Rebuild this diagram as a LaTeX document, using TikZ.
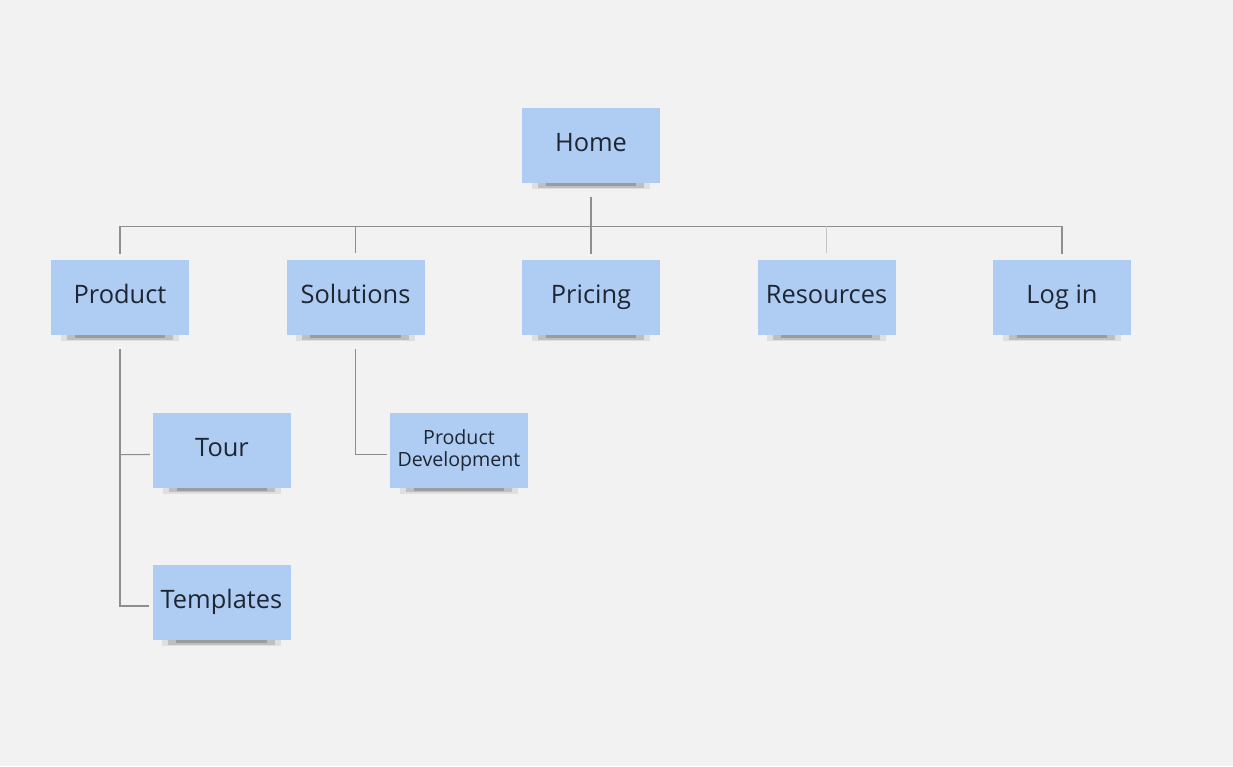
\documentclass[tikz,border=0pt]{standalone}
\usepackage{fontspec}
\setmainfont{Open Sans}
\usetikzlibrary{calc}
\definecolor{bg}{HTML}{F2F2F2}
\definecolor{note}{HTML}{AFCDF2}
\definecolor{ink}{HTML}{1E2533}
\definecolor{wire}{HTML}{8E8E8E}
\tikzset{
  notebase/.style={fill=note, draw=none, minimum width=138pt, minimum height=75pt, inner sep=0pt, text=ink, align=center},
  sticky/.style={notebase, font=\fontsize{25.4}{30}\selectfont, text height=19pt, text depth=7pt},
  smallsticky/.style={notebase, font=\fontsize{19.6}{22}\selectfont},
  wireline/.style={draw=wire, line width=1.1pt},
  lightwire/.style={draw=wire!50, line width=1.1pt}
}
\newcommand{\noteshadow}[1]{%
  \fill[black, opacity=0.08] ($(#1.south west)+(10pt,-6pt)$) rectangle ($(#1.south east)+(-10pt,0pt)$);
  \fill[black, opacity=0.14] ($(#1.south west)+(16pt,-4.5pt)$) rectangle ($(#1.south east)+(-16pt,0pt)$);
  \fill[black, opacity=0.18] ($(#1.south west)+(24pt,-3pt)$) rectangle ($(#1.south east)+(-24pt,0pt)$);
}
\begin{document}
\begin{tikzpicture}[x=1pt,y=-1pt]
\fill[bg] (0,0) rectangle (1233,766);
\useasboundingbox (0,0) rectangle (1233,766);
% nodes
\node[sticky] (home) at (591,145.5) {Home};
\node[sticky] (product) at (120,297.5) {Product};
\node[sticky] (solutions) at (355.5,297.5) {Solutions};
\node[sticky] (pricing) at (591,297.5) {Pricing};
\node[sticky] (resources) at (826.5,297.5) {Resources};
\node[sticky] (login) at (1062,297.5) {Log in};
\node[sticky] (tour) at (222,450) {Tour};
\node[smallsticky] (proddev) at (459,450) {Product\\Development};
\node[sticky] (templates) at (221.5,602.5) {Templates};
% shadows
\foreach \n in {home,product,solutions,pricing,resources,login,tour,proddev,templates}{\noteshadow{\n}}
% connectors
\coordinate (hub) at ($(home.south)+(0,43.5)$);
\draw[wireline] ($(home.south)+(0,14)$) -- (hub);
\draw[wireline] ($(product.north)+(0,-6)$) |- (hub) -| ($(login.north)+(0,-6)$);
\draw[wireline] (hub) -- ($(pricing.north)+(0,-6)$);
\draw[wireline] ($(solutions.north)+(0,-7)$) -- ($(solutions.north)+(0,-34)$);
\draw[lightwire] ($(resources.north)+(0,-7)$) -- ($(resources.north)+(0,-34)$);
\draw[wireline] ($(product.south)+(0,14)$) |- ($(templates.west)+(-3,3.5)$);
\draw[wireline] ($(product.south)+(0,119.5)$) -- ($(tour.west)+(-3,4.5)$);
\draw[wireline] ($(solutions.south)+(0,14)$) |- ($(proddev.west)+(-3,4.5)$);
\end{tikzpicture}
\end{document}
